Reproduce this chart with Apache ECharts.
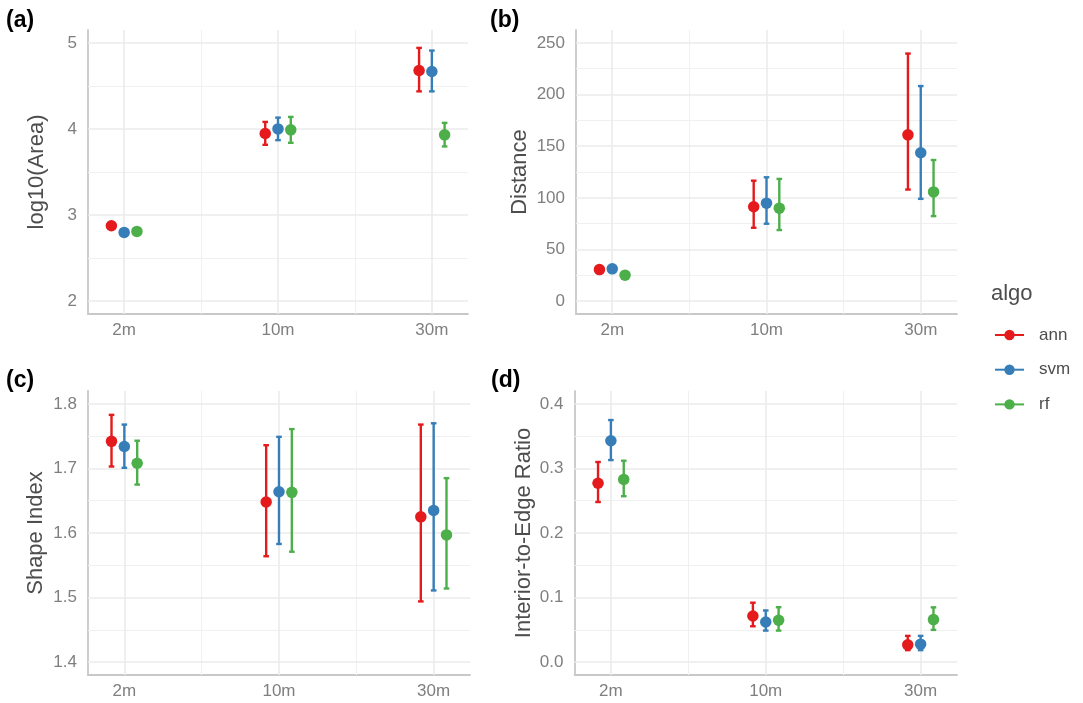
<!DOCTYPE html>
<html>
<head>
<meta charset="utf-8">
<script src="https://cdn.jsdelivr.net/npm/echarts@6/dist/echarts.min.js"></script>
<style>
html,body{margin:0;padding:0;background:#fff;}
#chart{width:1083px;height:703px;}
</style>
</head>
<body>
<div id="chart"></div>
<script>
// ---------- DATA ----------
const categories = ['2m', '10m', '30m'];
const algos = ['ann', 'svm', 'rf'];
const algoColors = ['#E41A1C', '#377EB8', '#4DAF4A'];

// (a) log10(Area): rows = ann, svm, rf; cols = 2m, 10m, 30m
const areaMean = [[2.875, 3.947, 4.680], [2.798, 4.001, 4.668], [2.810, 3.990, 3.932]];
const areaLow  = [[null, 3.816, 4.437], [null, 3.870, 4.437], [null, 3.839, 3.797]];
const areaHigh = [[null, 4.082, 4.942], [null, 4.132, 4.911], [null, 4.140, 4.071]];
const areaTicks = [2, 3, 4, 5];

// (b) Distance
const distMean = [[30.5, 91.3, 161.0], [31.2, 94.8, 143.6], [25.1, 90.0, 105.7]];
const distLow  = [[null, 71.0, 108.0], [null, 74.9, 99.0], [null, 68.8, 82.3]];
const distHigh = [[null, 116.6, 239.7], [null, 119.9, 208.2], [null, 118.3, 136.6]];
const distTicks = [0, 50, 100, 150, 200, 250];

// (c) Shape Index
const shapeMean = [[1.742, 1.648, 1.625], [1.734, 1.664, 1.635], [1.708, 1.663, 1.597]];
const shapeLow  = [[1.703, 1.564, 1.494], [1.701, 1.583, 1.511], [1.675, 1.571, 1.514]];
const shapeHigh = [[1.783, 1.736, 1.768], [1.768, 1.749, 1.770], [1.743, 1.761, 1.685]];
const shapeTicks = [1.4, 1.5, 1.6, 1.7, 1.8];

// (d) Interior-to-Edge Ratio
const ierMean = [[0.277, 0.0715, 0.0267], [0.343, 0.0622, 0.0278], [0.283, 0.0648, 0.0658]];
const ierLow  = [[0.248, 0.0555, 0.0185], [0.313, 0.0488, 0.0185], [0.257, 0.0488, 0.0499]];
const ierHigh = [[0.310, 0.092, 0.0406], [0.375, 0.080, 0.0406], [0.312, 0.085, 0.0848]];
const ierTicks = [0.0, 0.1, 0.2, 0.3, 0.4];

const panelLabels = ['(a)', '(b)', '(c)', '(d)'];
const yTitles = ['log10(Area)', 'Distance', 'Shape Index', 'Interior-to-Edge Ratio'];

// ---------- LAYOUT / STYLE ----------
const FONT = 'Liberation Sans, Arial, sans-serif';
const dodge = 0.083;
const panels = [
  {mean: areaMean, low: areaLow, high: areaHigh, ticks: areaTicks, dec: 0,
   grid: {left: 88, top: 30, width: 380, height: 284}, yMin: 1.85, yMax: 5.15, nameGap: 40},
  {mean: distMean, low: distLow, high: distHigh, ticks: distTicks, dec: 0,
   grid: {left: 576, top: 30, width: 381, height: 284}, yMin: -12.5, yMax: 262.5, nameGap: 45},
  {mean: shapeMean, low: shapeLow, high: shapeHigh, ticks: shapeTicks, dec: 1,
   grid: {left: 88, top: 391, width: 382, height: 284}, yMin: 1.38, yMax: 1.82, nameGap: 41},
  {mean: ierMean, low: ierLow, high: ierHigh, ticks: ierTicks, dec: 1,
   grid: {left: 574.5, top: 391, width: 382.5, height: 284}, yMin: -0.02, yMax: 0.42, nameGap: 40}
];
const xMin = 0.765, xMax = 3.235;
const catPos = categories.map((c, i) => i + 1);

const grids = [], xAxes = [], yAxes = [], series = [];

// legend dummy series
algos.forEach((a, k) => {
  series.push({
    name: a, type: 'line', data: [], xAxisIndex: 0, yAxisIndex: 0,
    color: algoColors[k], symbol: 'circle', symbolSize: 10,
    lineStyle: {width: 2.6, color: algoColors[k]},
    itemStyle: {color: algoColors[k]}
  });
});

panels.forEach((p, gi) => {
  grids.push(Object.assign({containLabel: false}, p.grid));
  xAxes.push({
    type: 'value', gridIndex: gi, min: xMin, max: xMax,
    axisLine: {show: true, onZero: false, lineStyle: {color: '#c8c8c8', width: 1.8}},
    axisTick: {show: false},
    splitLine: {show: false},
    axisLabel: {
      customValues: catPos, margin: 8, color: '#7f7f7f', fontSize: 17, fontFamily: FONT,
      formatter: v => categories[Math.round(v) - 1] || ''
    }
  });
  yAxes.push({
    type: 'value', gridIndex: gi, min: p.yMin, max: p.yMax,
    name: yTitles[gi], nameLocation: 'middle', nameGap: p.nameGap,
    nameTextStyle: {color: '#4d4d4d', fontSize: 22, fontFamily: FONT},
    axisLine: {show: true, onZero: false, lineStyle: {color: '#c8c8c8', width: 1.8}},
    axisTick: {show: false},
    splitLine: {show: false},
    axisLabel: {
      customValues: p.ticks, margin: 11, color: '#7f7f7f', fontSize: 17, fontFamily: FONT,
      formatter: v => Number(v).toFixed(p.dec)
    }
  });

  // grid lines via markLine
  const minorY = [];
  for (let i = 0; i < p.ticks.length - 1; i++) minorY.push((p.ticks[i] + p.ticks[i + 1]) / 2);
  const minorX = [];
  for (let i = 0; i < catPos.length - 1; i++) minorX.push((catPos[i] + catPos[i + 1]) / 2);
  const ml = [];
  minorY.forEach(v => ml.push({yAxis: v, lineStyle: {color: '#f0f0f0', width: 1, type: 'solid'}}));
  minorX.forEach(v => ml.push({xAxis: v, lineStyle: {color: '#f0f0f0', width: 1, type: 'solid'}}));
  p.ticks.forEach(v => ml.push({yAxis: v, lineStyle: {color: '#ebebeb', width: 1.6, type: 'solid'}}));
  catPos.forEach(v => ml.push({xAxis: v, lineStyle: {color: '#ebebeb', width: 1.6, type: 'solid'}}));
  series.push({
    type: 'scatter', xAxisIndex: gi, yAxisIndex: gi, data: [], z: 1, silent: true,
    markLine: {silent: true, z: 1, symbol: 'none', label: {show: false}, animation: false, data: ml}
  });

  algos.forEach((a, k) => {
    const off = (k - 1) * dodge;
    const bars = [];
    const pts = [];
    categories.forEach((c, ci) => {
      const x = catPos[ci] + off;
      pts.push([x, p.mean[k][ci]]);
      if (p.low[k][ci] != null && p.high[k][ci] != null) bars.push([x, p.low[k][ci], p.high[k][ci]]);
    });
    const col = algoColors[k];
    series.push({
      type: 'custom', name: a + '_err', xAxisIndex: gi, yAxisIndex: gi, z: 10, silent: true,
      encode: {x: 0, y: [1, 2]},
      data: bars,
      renderItem: (params, api) => {
        const x = api.value(0), lo = api.value(1), hi = api.value(2);
        const p1 = api.coord([x, lo]), p2 = api.coord([x, hi]);
        const hw = 2.8;
        const st = {stroke: col, lineWidth: 2.4};
        return {type: 'group', children: [
          {type: 'line', shape: {x1: p1[0], y1: p1[1], x2: p2[0], y2: p2[1]}, style: st},
          {type: 'line', shape: {x1: p1[0] - hw, y1: p1[1], x2: p1[0] + hw, y2: p1[1]}, style: st},
          {type: 'line', shape: {x1: p2[0] - hw, y1: p2[1], x2: p2[0] + hw, y2: p2[1]}, style: st}
        ]};
      }
    });
    series.push({
      type: 'scatter', name: a + '_pt', xAxisIndex: gi, yAxisIndex: gi, z: 11, silent: true,
      symbol: 'circle', symbolSize: 11.5, itemStyle: {color: col, opacity: 1},
      data: pts
    });
  });
});

const labelPos = [[6, 9], [490, 9], [6, 369], [491, 369]];
const graphics = panelLabels.map((t, i) => ({
  type: 'text', left: labelPos[i][0], top: labelPos[i][1],
  style: {text: t, fill: '#000', font: 'bold 23px ' + FONT}
}));
graphics.push({
  type: 'text', left: 991, top: 283,
  style: {text: 'algo', fill: '#4d4d4d', font: '22px ' + FONT}
});

const chart = echarts.init(document.getElementById('chart'), null, {renderer: 'canvas'});
chart.setOption({
  animation: false,
  backgroundColor: '#ffffff',
  textStyle: {fontFamily: FONT},
  grid: grids,
  xAxis: xAxes,
  yAxis: yAxes,
  legend: {
    data: algos, orient: 'vertical', left: 994, top: 325, padding: 0,
    itemWidth: 29, itemHeight: 13, itemGap: 14.7,
    textStyle: {color: '#4d4d4d', fontSize: 17, fontFamily: FONT, lineHeight: 20, padding: [0, 0, 0, 10]},
    selectedMode: false
  },
  graphic: graphics,
  series: series
});
</script>
</body>
</html>
